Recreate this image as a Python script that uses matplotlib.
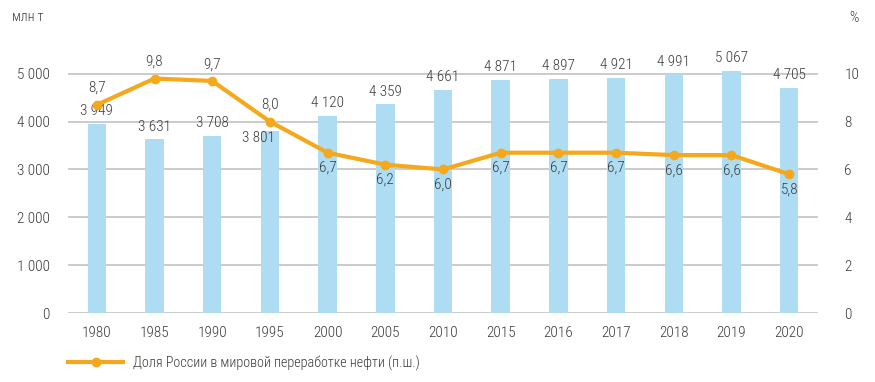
import matplotlib.pyplot as plt
from matplotlib.lines import Line2D

years = ['1980', '1985', '1990', '1995', '2000', '2005', '2010',
         '2015', '2016', '2017', '2018', '2019', '2020']
refining = [3949, 3631, 3708, 3801, 4120, 4359, 4661,
            4871, 4897, 4921, 4991, 5067, 4705]
russia_share = [8.7, 9.8, 9.7, 8.0, 6.7, 6.2, 6.0,
                6.7, 6.7, 6.7, 6.6, 6.6, 5.8]
left_ticks = [0, 1000, 2000, 3000, 4000, 5000]
right_ticks = [0, 2, 4, 6, 8, 10]

plt.rcParams['font.family'] = ['Roboto Condensed', 'DejaVu Sans']
plt.rcParams['font.weight'] = 'light'

bar_color = '#aedcf3'
line_color = '#f5a81c'
text_color = '#3a3a3a'
grid_color = '#bdbdbd'
fs = 11


def fmt(v):
    return f'{v:,}'.replace(',', ' ')


fig = plt.figure(figsize=(8.75, 3.82), dpi=100)
ax = fig.add_axes([0.0777, 0.1806, 0.8572, 0.689])
ax2 = ax.twinx()

x = list(range(len(years)))
ax.bar(x, refining, width=0.32, color=bar_color, zorder=2)
ax.set_xlim(-0.5, len(years) - 0.5)
ax.set_ylim(0, 5500)
ax.set_yticks(left_ticks)
ax.set_yticklabels([fmt(v) for v in left_ticks])
ax.set_xticks(x)
ax.set_xticklabels(years)
for t in left_ticks:
    ax.axhline(t, color=grid_color, lw=1.1, zorder=1)

for s in ['top', 'right', 'left', 'bottom']:
    ax.spines[s].set_visible(False)
    ax2.spines[s].set_visible(False)
ax.tick_params(axis='both', length=0, labelsize=fs, colors=text_color)
ax.tick_params(axis='y', pad=13)
ax.tick_params(axis='x', pad=9)

# подписи столбцов
for i, v in enumerate(refining):
    dx, dy, va = 0, 4, 'bottom'
    if years[i] == '1995':
        dx, dy, va = -8, 0, 'top'
    ax.annotate(fmt(v), (i, v), xytext=(dx, dy), textcoords='offset points',
                ha='center', va=va, fontsize=fs, color=text_color, zorder=5)

ax2.plot(x, russia_share, color=line_color, lw=3, marker='o', ms=6, zorder=4)
ax2.set_ylim(0, 11)
ax2.set_yticks(right_ticks)
ax2.tick_params(axis='y', length=0, labelsize=fs, colors=text_color, pad=19)

for i, v in enumerate(russia_share):
    if i < 4:
        dy, va = 7, 'bottom'
    else:
        dy, va = -6, 'top'
    ax2.annotate(f'{v:.1f}'.replace('.', ','), (i, v), xytext=(0, dy),
                 textcoords='offset points', ha='center', va=va,
                 fontsize=fs, color=text_color)

fig.text(0.014, 0.955, 'млн т', fontsize=10, color=text_color, va='center')
fig.text(0.976, 0.952, '%', fontsize=10.5, color=text_color, va='center', ha='center')

handle = Line2D([], [], color=line_color, lw=3, marker='o', ms=6)
fig.legend([handle], ['Доля России в мировой переработке нефти (п.ш.)'],
           loc='center left', bbox_to_anchor=(0.063, 0.05), frameon=False,
           fontsize=10.2, handlelength=3.9, handletextpad=0.7,
           labelcolor=text_color)

fig.savefig('out.png', dpi=100)
